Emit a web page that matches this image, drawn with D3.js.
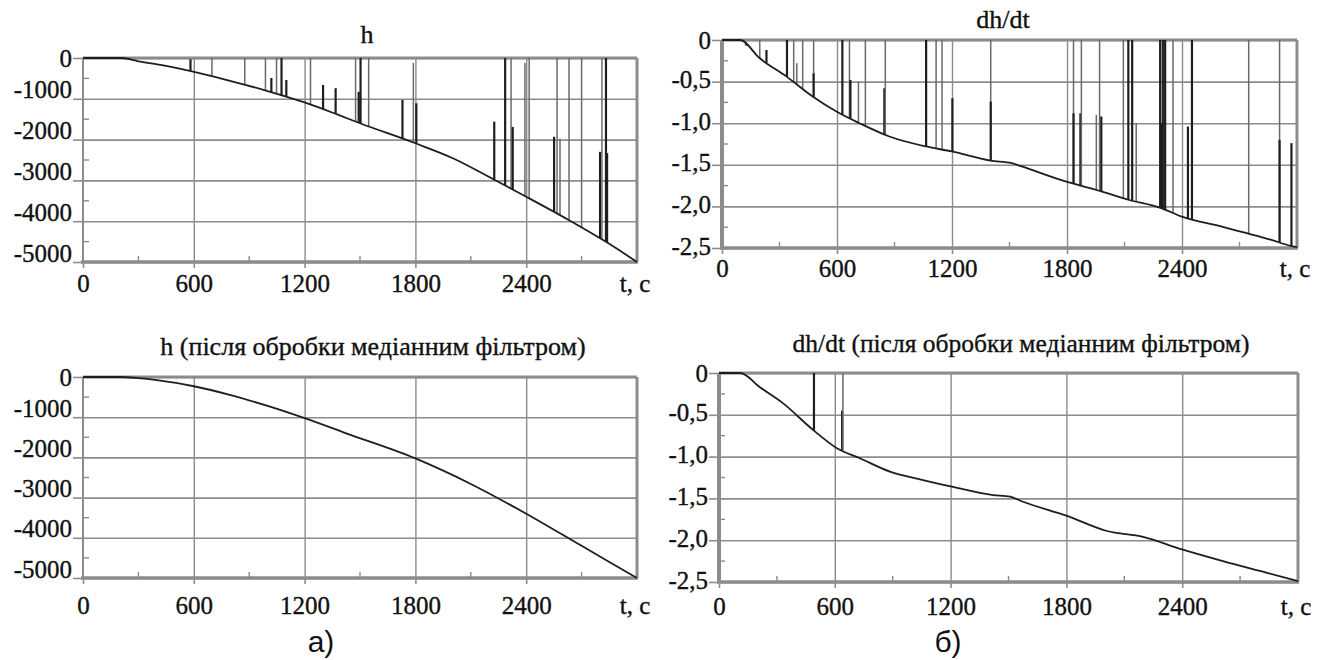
<!DOCTYPE html>
<html>
<head>
<meta charset="utf-8">
<script src="https://cdn.jsdelivr.net/npm/d3@7"></script>
<style>
  body { margin: 0; background: #fff; }
</style>
</head>
<body>
<svg id="chart" width="1326" height="660"></svg>
<script>
// axis ticks
const tTicks = [0, 600, 1200, 1800, 2400]
const tMinor = [300, 900, 1500, 2100, 2700]
const hTicks = [0, -1000, -2000, -3000, -4000, -5000]
const dhTicks = [0, -0.5, -1.0, -1.5, -2.0, -2.5]

// h, raw
const hRawT = [0, 210, 300, 420, 590, 780, 1000, 1200, 1380, 1500, 1800, 2000, 2230, 2400, 2630, 2830, 3000]
const hRawV = [0, 0, -80, -170, -330, -540, -810, -1090, -1390, -1600, -2090, -2450, -2990, -3400, -3970, -4500, -5000]
// spikes of raw h: time, top value, dark (1) or light (0)
const hSpikeT = [582, 698, 876, 988, 1020, 1048, 1075, 1101, 1232, 1300, 1368, 1476, 1493, 1503, 1547, 1730, 1789, 1805,
  2227, 2286, 2318, 2327, 2393, 2416, 2551, 2567, 2583, 2632, 2700, 2800, 2810, 2832, 2838]
const hSpikeTop = [-30, 0, 0, 0, -490, 0, 0, -540, 0, -660, -740, 0, -830, 0, 0, -1030, -120, -1110,
  -1560, 0, 0, -1690, -120, 0, -1930, 0, -1970, 0, 0, -2300, 0, 0, -2330]
const hSpikeDark = [1, 0, 0, 0, 1, 0, 1, 1, 0, 1, 1, 0, 1, 1, 0, 1, 0, 1,
  1, 1, 0, 1, 0, 0, 1, 0, 0, 0, 0, 1, 0, 1, 1]

// h after median filter
const hMedT = [0, 200, 300, 400, 600, 800, 1000, 1200, 1425, 1800, 2100, 2400, 2700, 3000]
const hMedV = [0, 0, -30, -80, -230, -450, -720, -1025, -1400, -2025, -2660, -3400, -4200, -5000]

// dh/dt, raw
const dhRawT = [0, 94, 197, 337, 473, 597, 717, 873, 1065, 1200, 1400, 1512, 1564, 1792, 1979, 2120, 2291, 2395, 2603, 2862, 2977, 3000]
const dhRawV = [0, 0, -0.22, -0.44, -0.68, -0.86, -1.0, -1.16, -1.28, -1.34, -1.45, -1.48, -1.52, -1.70, -1.82, -1.92, -2.02, -2.12, -2.24, -2.40, -2.48, -2.49]
const dhSpikeT = [125, 197, 232, 339, 374, 390, 421, 478, 478, 628, 665, 670, 712, 748, 847, 852, 1065, 1117, 1148, 1202,
  1402, 1402, 1834, 1834, 1870, 1875, 1953, 1970, 1979, 2094, 2120, 2140, 2161, 2286, 2295, 2300, 2312, 2353,
  2431, 2452, 2748, 2909, 2909, 2971]
const dhSpikeTop = [-0.05, 0, -0.12, 0, 0, -0.28, 0, 0, -0.4, 0, 0, -0.48, -0.5, 0, -0.58, 0, 0, 0, 0, -0.7,
  0, -0.74, 0, -0.88, -0.88, 0, -0.9, 0, -0.92, 0, 0, 0, -1.0, 0, -1.0, 0, 0, 0,
  -1.04, 0, 0, 0, -1.2, -1.24]
const dhSpikeDark = [1, 0, 1, 1, 0, 0, 0, 0, 1, 1, 0, 1, 0, 0, 1, 0, 1, 0, 0, 1,
  0, 1, 0, 1, 1, 0, 0, 0, 1, 0, 1, 1, 0, 1, 1, 1, 1, 0,
  1, 1, 0, 0, 1, 1]

// dh/dt after median filter
const dhMedT = [0, 110, 212, 331, 487, 611, 730, 886, 1057, 1207, 1420, 1508, 1575, 1803, 2010, 2197, 2399, 2611, 2839, 3000]
const dhMedV = [0, 0, -0.17, -0.36, -0.68, -0.90, -1.02, -1.18, -1.28, -1.36, -1.46, -1.48, -1.54, -1.71, -1.89, -1.96, -2.11, -2.25, -2.39, -2.49]
const dhMedSpikeT = [492, 638, 642]
const dhMedSpikeTop = [0, -0.45, 0]
const dhMedSpikeDark = [1, 1, 0]

const svg = d3.select("#chart")
const grid = "#8c8c8c"
const ink = "#111"
const serif = "'Liberation Serif', 'DejaVu Serif', serif"

const fmtH = d => (d < 0 ? "-" : "") + Math.abs(d)
const fmtDh = d => d === 0 ? "0" : (d < 0 ? "-" : "") + Math.abs(d).toFixed(1).replace(".", ",")

function footAt(T, V, t) {
  const i = Math.max(1, Math.min(T.length - 1, d3.bisectLeft(T, t)))
  const k = (t - T[i - 1]) / (T[i] - T[i - 1])
  return V[i - 1] + k * (V[i] - V[i - 1])
}

// serif text, slightly heavier like the scanned original
function ink_(sel, size) {
  sel.style("font-family", serif).attr("font-size", size).attr("fill", ink)
    .attr("stroke", ink).attr("stroke-width", 0.35)
}

function panel(p) {
  const x = d3.scaleLinear().domain([0, 3000]).range([p.left, p.right])
  const y = d3.scaleLinear().domain([-2.5 * p.unit, 0]).range([p.bottom, p.top])
  const g = svg.append("g")
  const w = p.right - p.left

  // horizontal grid
  g.append("g").attr("transform", `translate(${p.left},0)`)
    .call(d3.axisLeft(y).tickValues(p.yTicks).tickSize(-w).tickFormat(""))
    .call(a => a.select(".domain").remove())
    .call(a => a.selectAll("line").attr("stroke", grid).attr("stroke-width", 1.6))

  // vertical grid
  g.append("g").attr("transform", `translate(0,${p.bottom})`)
    .call(d3.axisBottom(x).tickValues(tTicks.slice(1)).tickSize(-(p.bottom - p.top)).tickFormat(""))
    .call(a => a.select(".domain").remove())
    .call(a => a.selectAll("line").attr("stroke", grid).attr("stroke-width", 1.4))

  // minor ticks
  const yMinor = d3.pairs(p.yTicks).map(([a, b]) => (a + b) / 2)
  g.selectAll(".ym").data(yMinor).join("line")
    .attr("x1", p.left).attr("x2", p.left + 6)
    .attr("y1", d => y(d)).attr("y2", d => y(d))
    .attr("stroke", grid).attr("stroke-width", 1.4)
  g.selectAll(".xm").data(tMinor).join("line")
    .attr("x1", d => x(d)).attr("x2", d => x(d))
    .attr("y1", p.bottom).attr("y2", p.bottom - 6)
    .attr("stroke", grid).attr("stroke-width", 1.4)

  // left axis with labels
  const ya = g.append("g").attr("transform", `translate(${p.left},0)`)
    .call(d3.axisLeft(y).tickValues(p.yTicks).tickSize(10).tickPadding(1).tickFormat(p.fmt))
  ya.select(".domain").remove()
  ya.selectAll("line").attr("stroke", grid).attr("stroke-width", 1.6)
  ya.selectAll("text").call(ink_, 25).attr("y", d => d < 0 ? p.labelShift : 0)

  // bottom axis with labels
  const xa = g.append("g").attr("transform", `translate(0,${p.bottom})`)
    .call(d3.axisBottom(x).tickValues(tTicks).tickSize(6).tickFormat(d3.format("d")))
  xa.select(".domain").remove()
  xa.selectAll("line").attr("stroke", grid).attr("stroke-width", 1.6)
  xa.selectAll("text").call(ink_, 25).attr("y", p.xLabelY - p.bottom).attr("dy", "0.35em")
  g.append("text").attr("x", x(3000) - 2).attr("y", p.xLabelY).attr("dy", "0.35em")
    .attr("text-anchor", "middle").call(ink_, 25).text("t, c")

  // frame
  g.append("line").attr("x1", p.left).attr("x2", p.right).attr("y1", p.top).attr("y2", p.top)
    .attr("stroke", grid).attr("stroke-width", 3)
  g.append("line").attr("x1", p.left - 2).attr("x2", p.right + 1).attr("y1", p.bottom).attr("y2", p.bottom)
    .attr("stroke", grid).attr("stroke-width", 3.5)
  g.append("line").attr("x1", p.right).attr("x2", p.right).attr("y1", p.top).attr("y2", p.bottom)
    .attr("stroke", grid).attr("stroke-width", 3)
  g.append("line").attr("x1", p.left).attr("x2", p.left).attr("y1", p.top).attr("y2", p.bottom + 1)
    .attr("stroke", grid).attr("stroke-width", p.axisW)

  // curve
  const line = d3.line().curve(d3.curveMonotoneX).x(i => x(p.T[i])).y(i => y(p.V[i]))

  // spikes
  const idx = d3.range(p.spikeT.length)
  g.selectAll(".spike").data(idx).join("line")
    .attr("x1", i => x(p.spikeT[i])).attr("x2", i => x(p.spikeT[i]))
    .attr("y1", i => y(footAt(p.T, p.V, p.spikeT[i])))
    .attr("y2", i => y(p.spikeTop[i]))
    .attr("stroke", i => p.spikeDark[i] ? "#1e1e1e" : "#6a6a6a")
    .attr("stroke-width", i => p.spikeDark[i] ? 2.2 : 1.5)

  g.append("path")
    .datum(d3.range(p.T.length))
    .attr("fill", "none").attr("stroke", "#1e1e1e").attr("stroke-width", 1.8)
    .attr("d", line)

  // title
  g.append("text").attr("x", p.titleX).attr("y", p.titleY)
    .attr("text-anchor", "middle").call(ink_, p.titleSize).text(p.title)
}

panel({ left: 83, right: 637, top: 58, bottom: 262, unit: 2000, yTicks: hTicks, fmt: fmtH, labelShift: -9,
  axisW: 2, xLabelY: 283, title: "h", titleX: 367, titleY: 43, titleSize: 26,
  T: hRawT, V: hRawV, spikeT: hSpikeT, spikeTop: hSpikeTop, spikeDark: hSpikeDark })

panel({ left: 722, right: 1297, top: 40, bottom: 248, unit: 1, yTicks: dhTicks, fmt: fmtDh, labelShift: -2,
  axisW: 4, xLabelY: 268, title: "dh/dt", titleX: 1003, titleY: 28, titleSize: 26,
  T: dhRawT, V: dhRawV, spikeT: dhSpikeT, spikeTop: dhSpikeTop, spikeDark: dhSpikeDark })

panel({ left: 83, right: 637, top: 377, bottom: 578, unit: 2000, yTicks: hTicks, fmt: fmtH, labelShift: -9,
  axisW: 2, xLabelY: 605, title: "h (після обробки медіанним фільтром)", titleX: 373, titleY: 355, titleSize: 26,
  T: hMedT, V: hMedV, spikeT: [], spikeTop: [], spikeDark: [] })

panel({ left: 719, right: 1298, top: 373, bottom: 582, unit: 1, yTicks: dhTicks, fmt: fmtDh, labelShift: -2,
  axisW: 4, xLabelY: 606, title: "dh/dt (після обробки медіанним фільтром)", titleX: 1021, titleY: 352, titleSize: 25.5,
  T: dhMedT, V: dhMedV, spikeT: dhMedSpikeT, spikeTop: dhMedSpikeTop, spikeDark: dhMedSpikeDark })

svg.append("text").attr("x", 321).attr("y", 652).attr("text-anchor", "middle").attr("fill", ink)
  .style("font-family", "'Liberation Sans', Arial, sans-serif").attr("font-size", 30).text("а)")
svg.append("text").attr("x", 948).attr("y", 652).attr("text-anchor", "middle").attr("fill", ink)
  .style("font-family", "'Liberation Sans', Arial, sans-serif").attr("font-size", 30).text("б)")
</script>
</body>
</html>
